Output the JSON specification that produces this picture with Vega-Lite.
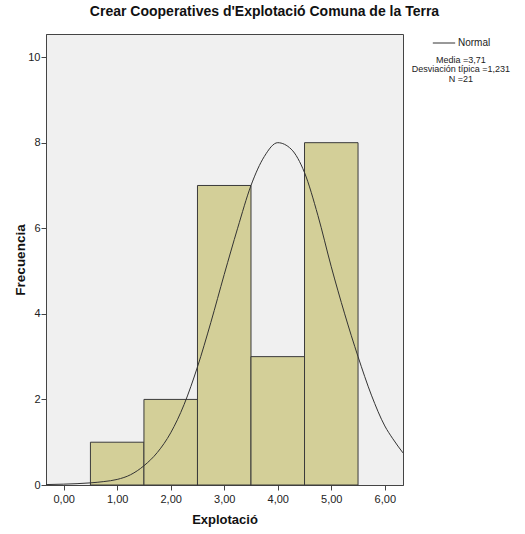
{
  "$schema": "https://vega.github.io/schema/vega-lite/v6.json",
  "autosize": {"type": "none"},
  "width": 357,
  "height": 451,
  "padding": {"left": 46, "top": 34, "right": 122, "bottom": 49},
  "background": "white",
  "config": {
    "view": {"fill": "#F0F0F0", "stroke": "#444444", "strokeWidth": 1},
    "font": "Liberation Sans"
  },
  "title": {
    "text": "Crear Cooperatives d'Explotació Comuna de la Terra",
    "fontSize": 14,
    "fontWeight": "bold",
    "font": "Liberation Sans",
    "color": "#111111",
    "anchor": "middle",
    "dx": 40,
    "offset": 12
  },
  "datasets": {
    "bins": [
      {"start": 0.5, "end": 1.5, "count": 1},
      {"start": 1.5, "end": 2.5, "count": 2},
      {"start": 2.5, "end": 3.5, "count": 7},
      {"start": 3.5, "end": 4.5, "count": 3},
      {"start": 4.5, "end": 5.5, "count": 8}
    ],
    "curve": [
      {"x": -0.33, "y": 0.01, "series": "Normal"},
      {"x": 0.0, "y": 0.02, "series": "Normal"},
      {"x": 0.5, "y": 0.05, "series": "Normal"},
      {"x": 0.75, "y": 0.08, "series": "Normal"},
      {"x": 1.0, "y": 0.13, "series": "Normal"},
      {"x": 1.25, "y": 0.24, "series": "Normal"},
      {"x": 1.5, "y": 0.45, "series": "Normal"},
      {"x": 1.75, "y": 0.76, "series": "Normal"},
      {"x": 2.0, "y": 1.22, "series": "Normal"},
      {"x": 2.25, "y": 1.88, "series": "Normal"},
      {"x": 2.5, "y": 2.76, "series": "Normal"},
      {"x": 2.75, "y": 3.8, "series": "Normal"},
      {"x": 3.0, "y": 4.92, "series": "Normal"},
      {"x": 3.25, "y": 6.0, "series": "Normal"},
      {"x": 3.5, "y": 7.0, "series": "Normal"},
      {"x": 3.75, "y": 7.68, "series": "Normal"},
      {"x": 4.0, "y": 8.0, "series": "Normal"},
      {"x": 4.25, "y": 7.85, "series": "Normal"},
      {"x": 4.5, "y": 7.3, "series": "Normal"},
      {"x": 4.75, "y": 6.3, "series": "Normal"},
      {"x": 5.0, "y": 5.1, "series": "Normal"},
      {"x": 5.25, "y": 4.0, "series": "Normal"},
      {"x": 5.5, "y": 3.0, "series": "Normal"},
      {"x": 5.75, "y": 2.1, "series": "Normal"},
      {"x": 6.0, "y": 1.38, "series": "Normal"},
      {"x": 6.15, "y": 1.08, "series": "Normal"},
      {"x": 6.34, "y": 0.75, "series": "Normal"}
    ],
    "stats": [
      {"text": "Media =3,71\nDesviación típica =1,231\nN =21"}
    ]
  },
  "encoding": {
    "x": {
      "type": "quantitative",
      "scale": {"domain": [-0.33, 6.34], "nice": false, "zero": false},
      "axis": {
        "title": "Explotació",
        "values": [0, 1, 2, 3, 4, 5, 6],
        "labelExpr": "replace(format(datum.value, '.2f'), '.', ',')",
        "grid": false,
        "domainColor": "#444444",
        "tickColor": "#444444",
        "tickSize": 5,
        "labelFont": "Liberation Sans",
        "labelFontSize": 11,
        "labelColor": "#222222",
        "labelPadding": 3,
        "titleFont": "Liberation Sans",
        "titleFontSize": 13,
        "titleFontWeight": "bold",
        "titleColor": "#111111",
        "titlePadding": 9
      }
    },
    "y": {
      "type": "quantitative",
      "scale": {"domain": [0, 10.54], "nice": false, "zero": true},
      "axis": {
        "title": "Frecuencia",
        "values": [0, 2, 4, 6, 8, 10],
        "grid": false,
        "domainColor": "#444444",
        "tickColor": "#444444",
        "tickSize": 5,
        "labelFont": "Liberation Sans",
        "labelFontSize": 11,
        "labelColor": "#222222",
        "labelPadding": 1,
        "titleFont": "Liberation Sans",
        "titleFontSize": 13.5,
        "titleFontWeight": "bold",
        "titleColor": "#111111",
        "titlePadding": 0
      }
    }
  },
  "layer": [
    {
      "data": {"name": "bins"},
      "mark": {"type": "bar", "fill": "#D3CF98", "stroke": "#3a3a3a", "strokeWidth": 1},
      "encoding": {
        "x": {"field": "start"},
        "x2": {"field": "end"},
        "y": {"field": "count"},
        "y2": {"datum": 0}
      }
    },
    {
      "data": {"name": "curve"},
      "mark": {"type": "line", "interpolate": "monotone", "strokeWidth": 1, "clip": true},
      "encoding": {
        "x": {"field": "x"},
        "y": {"field": "y"},
        "color": {
          "field": "series",
          "type": "nominal",
          "scale": {"range": ["#333333"]},
          "legend": {
            "title": null,
            "orient": "none",
            "legendX": 386,
            "legendY": -3,
            "symbolType": "stroke",
            "symbolSize": 500,
            "symbolStrokeWidth": 1,
            "labelFont": "Liberation Sans",
            "labelFontSize": 10,
            "labelColor": "#222222",
            "labelOffset": 2,
            "padding": 0
          }
        }
      }
    },
    {
      "data": {"name": "stats"},
      "mark": {
        "type": "text",
        "align": "center",
        "baseline": "top",
        "lineBreak": "\n",
        "lineHeight": 9.5,
        "fontSize": 9,
        "font": "Liberation Sans",
        "color": "#222222",
        "clip": false
      },
      "encoding": {
        "text": {"field": "text", "type": "nominal"},
        "x": {"datum": 7.42},
        "y": {"datum": 10.03}
      }
    }
  ]
}
